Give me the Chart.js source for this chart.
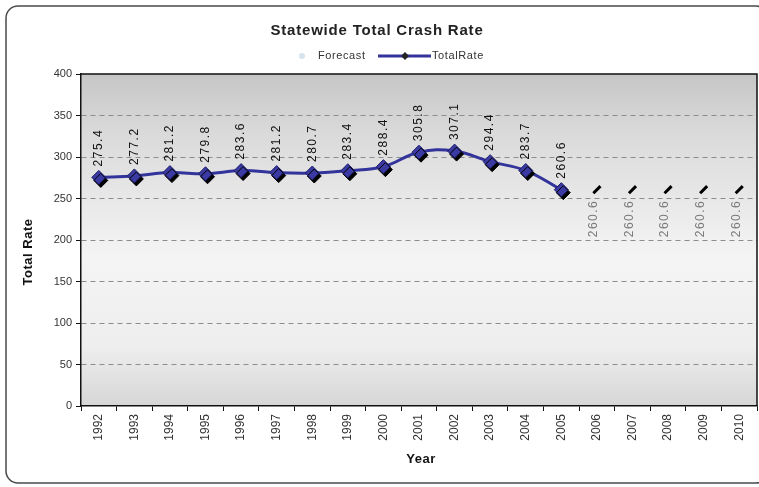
<!DOCTYPE html>
<html>
<head>
<meta charset="utf-8">
<title>Statewide Total Crash Rate</title>
<script src="https://cdn.jsdelivr.net/npm/chart.js@4.4.1/dist/chart.umd.min.js"></script>
<style>
  html, body { margin: 0; padding: 0; background: #fff; }
  #wrap { width: 759px; height: 487px; }
</style>
</head>
<body>
<div id="wrap"><canvas id="crashChart" width="759" height="487"></canvas></div>
<script>
// chart data

const years = ['1992', '1993', '1994', '1995', '1996', '1997', '1998', '1999', '2000', '2001',
               '2002', '2003', '2004', '2005', '2006', '2007', '2008', '2009', '2010'];

const totalRate = [275.4, 277.2, 281.2, 279.8, 283.6, 281.2, 280.7, 283.4, 288.4, 305.8,
                   307.1, 294.4, 283.7, 260.6, null, null, null, null, null];

const forecast = [null, null, null, null, null, null, null, null, null, null,
                  null, null, null, null, 260.6, 260.6, 260.6, 260.6, 260.6];

const yTicks = [0, 50, 100, 150, 200, 250, 300, 350, 400];

const NAVY = '#33339c';
const FONT = 'Arial, "Liberation Sans", sans-serif';

// card, plot background, titles, legend, value labels
const decor = {
  id: 'decor',
  beforeDraw(chart) {
    const c = chart.ctx;
    const a = chart.chartArea;
    c.save();
    c.fillStyle = '#fff';
    c.fillRect(0, 0, chart.width, chart.height);
    // outer rounded card
    c.strokeStyle = '#4a4a4a';
    c.lineWidth = 1.5;
    c.beginPath();
    c.roundRect(6, 6, 762, 477, 12);
    c.stroke();
    // plot background gradient
    const g = c.createLinearGradient(0, a.top, 0, a.bottom);
    g.addColorStop(0, '#c6c6c6');
    g.addColorStop(0.18, '#dadada');
    g.addColorStop(0.55, '#f4f4f4');
    g.addColorStop(0.82, '#eeeeee');
    g.addColorStop(1, '#d6d6d6');
    c.fillStyle = g;
    c.fillRect(a.left, a.top, a.right - a.left, a.bottom - a.top);
    c.restore();
  },
  beforeDatasetsDraw(chart) {
    const c = chart.ctx;
    const a = chart.chartArea;
    c.save();
    c.strokeStyle = '#111';
    c.lineWidth = 1.5;
    c.beginPath();
    c.moveTo(a.left, a.top);
    c.lineTo(a.right, a.top);
    c.lineTo(a.right, a.bottom);
    c.stroke();
    c.restore();
  },
  beforeDatasetDraw(chart, args) {
    if (chart.data.datasets[args.index].label === 'TotalRateMarkers') {
      const c = chart.ctx;
      c.save();
      c.shadowColor = '#000';
      c.shadowOffsetX = 2;
      c.shadowOffsetY = 3;
      c.shadowBlur = 0;
    }
  },
  afterDatasetDraw(chart, args) {
    if (chart.data.datasets[args.index].label === 'TotalRateMarkers') {
      chart.ctx.restore();
    }
  },
  afterDatasetsDraw(chart) {
    const c = chart.ctx;
    c.save();
    c.font = '12px ' + FONT;
    c.letterSpacing = '1.5px';
    c.textBaseline = 'middle';
    chart.data.datasets.forEach((ds, i) => {
      if (ds.label !== 'TotalRateMarkers' && ds.label !== 'Forecast') return;
      const meta = chart.getDatasetMeta(i);
      meta.data.forEach((pt, j) => {
        const v = ds.data[j];
        if (v == null) return;
        c.save();
        if (ds.label === 'Forecast') {
          c.translate(pt.x - 3, pt.y + 10);
          c.rotate(-Math.PI / 2);
          c.textAlign = 'right';
          c.fillStyle = '#7a7a7a';
        } else {
          c.translate(pt.x, pt.y - 11);
          c.rotate(-Math.PI / 2);
          c.textAlign = 'left';
          c.fillStyle = '#111';
        }
        c.fillText(v.toFixed(1), 0, 0);
        c.restore();
      });
    });
    c.restore();
  },
  afterDraw(chart) {
    const c = chart.ctx;
    c.save();
    c.fillStyle = '#222';
    c.textBaseline = 'middle';
    // title
    c.font = 'bold 15px ' + FONT;
    c.letterSpacing = '0.8px';
    c.textAlign = 'center';
    c.fillText('Statewide Total Crash Rate', 377, 31);
    // legend
    c.font = '11px ' + FONT;
    c.letterSpacing = '0.6px';
    c.textAlign = 'left';
    c.fillStyle = '#d6e4ee';
    c.beginPath();
    c.arc(302, 56, 3, 0, Math.PI * 2);
    c.fill();
    c.fillStyle = '#333';
    c.fillText('Forecast', 318, 56);
    c.strokeStyle = NAVY;
    c.lineWidth = 3;
    c.beginPath();
    c.moveTo(378, 56);
    c.lineTo(431, 56);
    c.stroke();
    c.fillStyle = '#222';
    c.beginPath();
    c.moveTo(405, 52); c.lineTo(409, 56); c.lineTo(405, 60); c.lineTo(401, 56);
    c.closePath();
    c.fill();
    c.fillStyle = '#333';
    c.fillText('TotalRate', 432, 56);
    // axis titles
    c.fillStyle = '#111';
    c.font = 'bold 13px ' + FONT;
    c.letterSpacing = '0.5px';
    c.textAlign = 'center';
    c.fillText('Year', 421, 459);
    c.translate(28, 252);
    c.rotate(-Math.PI / 2);
    c.fillText('Total Rate', 0, 0);
    c.restore();
  }
};

const canvas = document.getElementById('crashChart');
const ctx = canvas.getContext('2d');
ctx.letterSpacing = '1px';

const crashChart = new Chart(ctx, {
  type: 'line',
  data: {
    labels: years,
    datasets: [
      {
        label: 'TotalRateMarkers',
        data: totalRate,
        showLine: false,
        pointStyle: 'rectRot',
        pointRadius: 7,
        pointBackgroundColor: '#3a3aa2',
        pointBorderColor: '#1c1c66',
        pointBorderWidth: 1,
        order: 0
      },
      {
        label: 'Forecast',
        data: forecast,
        showLine: false,
        pointStyle: 'line',
        rotation: -45,
        pointRadius: 5,
        pointBorderColor: '#000',
        pointBorderWidth: 3,
        order: 1
      },
      {
        label: 'TotalRate',
        data: totalRate,
        borderColor: NAVY,
        borderWidth: 3,
        pointRadius: 0,
        tension: 0.4,
        fill: false,
        order: 2
      }
    ]
  },
  options: {
    responsive: false,
    animation: false,
    layout: { autoPadding: false, padding: { top: 74, left: 0, right: 2, bottom: 0 } },
    plugins: {
      legend: { display: false },
      title: { display: false },
      tooltip: { enabled: false }
    },
    scales: {
      x: {
        offset: true,
        afterFit: (scale) => {
          scale.height = 81;
          scale.paddingLeft = 0;
          scale.paddingRight = 0;
        },
        border: { color: '#111', width: 1.5 },
        grid: {
          drawOnChartArea: false,
          offset: true,
          tickLength: 5,
          tickColor: '#111'
        },
        ticks: {
          minRotation: 90,
          maxRotation: 90,
          autoSkip: false,
          padding: 3,
          color: '#333',
          font: { size: 12, family: FONT }
        }
      },
      y: {
        min: 0,
        max: 400,
        afterFit: (scale) => {
          scale.width = 81;
          scale.paddingTop = 0;
          scale.paddingBottom = 0;
        },
        afterBuildTicks: (scale) => { scale.ticks = yTicks.map(v => ({ value: v })); },
        border: { color: '#111', width: 1.5, dash: [5, 4] },
        grid: {
          color: (c) => (c.tick && (c.tick.value === 0 || c.tick.value === 400)) ? 'rgba(0,0,0,0)' : '#8c8c8c',
          tickBorderDash: [],
          tickLength: 5,
          tickColor: '#111'
        },
        ticks: {
          padding: 4,
          color: '#333',
          font: { size: 11, family: FONT }
        }
      }
    }
  },
  plugins: [decor]
});
</script>
</body>
</html>
